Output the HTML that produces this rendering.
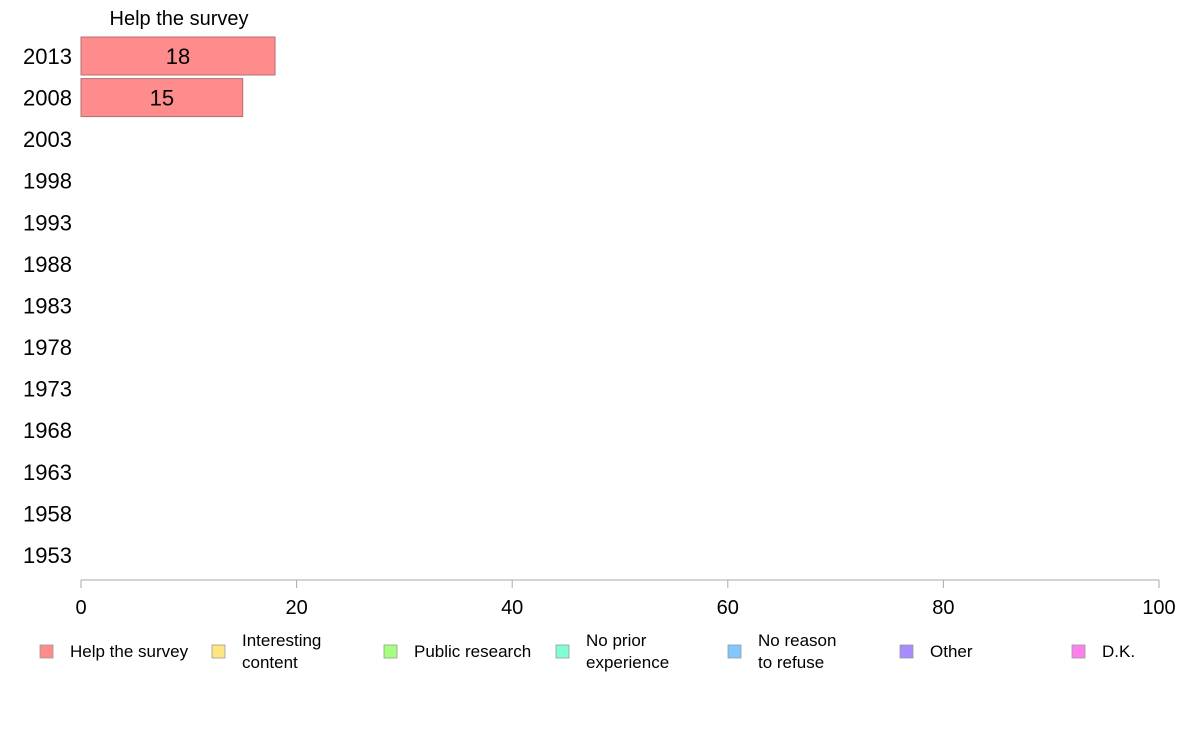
<!DOCTYPE html>
<html><head><meta charset="utf-8"><style>
body{margin:0;background:#fff}
svg{display:block;font-family:"Liberation Sans",Arial,sans-serif}
</style></head><body>
<svg id="c" width="1188" height="736"></svg>
<script>
const years=["2013","2008","2003","1998","1993","1988","1983","1978","1973","1968","1963","1958","1953"];
const values=[18,15,null,null,null,null,null,null,null,null,null,null,null];
const ticks=[0,20,40,60,80,100];
const legendLabels=[["Help the survey"],["Interesting","content"],["Public research"],["No prior","experience"],["No reason","to refuse"],["Other"],["D.K."]];
const legendColors=["#ff8c8c","#ffe680","#a6ff80","#80ffd2","#80c8ff","#a68cff","#ff80ea"];
const NS="http://www.w3.org/2000/svg",svg=document.getElementById('c');
const x=v=>81+v*10.78, y=i=>56+i*41.58;
function mk(t,a,txt){const e=document.createElementNS(NS,t);for(const k in a)e.setAttribute(k,a[k]);if(txt!=null)e.textContent=txt;svg.appendChild(e);return e;}
let e=mk('text',{x:179,y:25,'font-size':20,'text-anchor':'middle'},"Help the survey");


years.forEach((yr,i)=>{
 let t=mk('text',{x:72,y:y(i)+8,'font-size':22,'text-anchor':'end'},yr);
 
 
 if(values[i]!=null){
  let r=mk('rect',{x:x(0),y:y(i)-19,width:x(values[i])-x(0),height:38,fill:"#ff8c8c",stroke:"#b07070",'stroke-width':1});
  
  
  let v=mk('text',{x:(x(0)+x(values[i]))/2,y:y(i)+8,'font-size':22,'text-anchor':'middle'},String(values[i]));
  
  
 }
});
e=mk('line',{x1:x(0),x2:x(100),y1:580,y2:580,stroke:"#aaa",'stroke-width':1});


ticks.forEach(t=>{
 let l=mk('line',{x1:x(t),x2:x(t),y1:580,y2:588,stroke:"#aaa"});
 
 
 let tx=mk('text',{x:x(t),y:614,'font-size':20,'text-anchor':'middle'},String(t));
 
 
});
legendLabels.forEach((lb,i)=>{
 const sx=40+172*i;
 let r=mk('rect',{x:sx,y:645,width:13,height:13,fill:legendColors[i],stroke:"#999",'stroke-width':0.8});
 
 
 lb.forEach((s,j)=>{
  const yy=lb.length==1?657:646+j*22;
  let t=mk('text',{x:sx+30,y:yy,'font-size':17},s);
  
  
 });
});
</script>
</body></html>
